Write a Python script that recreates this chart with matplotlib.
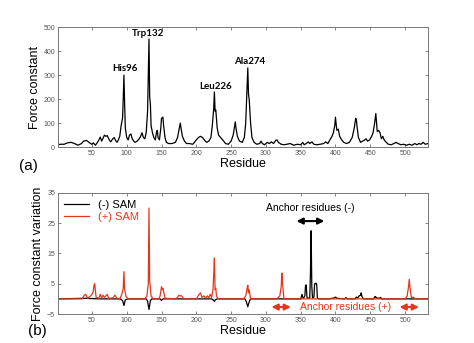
import numpy as np
import matplotlib.pyplot as plt

plt.rcParams['font.family'] = ['Liberation Sans', 'DejaVu Sans']

# (a) force constant per residue
res_a = [1, 5, 10, 15, 20, 25, 30, 35, 38, 42, 45, 48, 50, 52, 55, 58, 60, 62, 64, 66,
         68, 70, 72, 75, 77, 80, 82, 84, 86, 88, 90, 92, 94, 95, 96, 97, 98, 100, 102, 104,
         106, 108, 110, 112, 115, 118, 120, 122, 124, 126, 128, 130, 131, 132, 133, 134, 135, 137, 139, 141,
         143, 144, 145, 147, 149, 150, 152, 153, 155, 157, 160, 165, 170, 173, 175, 177, 178, 180, 183, 186,
         190, 195, 200, 203, 206, 209, 212, 215, 218, 221, 223, 225, 226, 227, 228, 230, 232, 235, 238, 242,
         246, 250, 253, 255, 256, 257, 259, 262, 266, 269, 271, 272, 273, 274, 275, 276, 278, 280, 283, 287,
         291, 293, 295, 298, 302, 305, 308, 311, 314, 316, 318, 322, 326, 330, 335, 340, 345, 350, 353, 355,
         358, 361, 363, 366, 369, 373, 378, 383, 386, 389, 392, 395, 397, 399, 400, 401, 402, 404, 406, 409,
         412, 416, 420, 424, 427, 429, 430, 431, 433, 436, 439, 442, 444, 446, 449, 452, 454, 456, 458, 459,
         460, 462, 464, 466, 468, 470, 473, 476, 480, 484, 487, 490, 494, 498, 502, 506, 510, 514, 517, 520,
         523, 526, 529, 533]
force_a = [10, 12, 12, 18, 20, 15, 8, 15, 25, 28, 22, 15, 12, 18, 8, 20, 30, 42, 25, 38,
           50, 45, 48, 30, 22, 35, 40, 28, 20, 30, 45, 90, 120, 200, 300, 180, 80, 40, 30, 50,
           55, 35, 25, 20, 25, 35, 45, 60, 40, 35, 60, 150, 300, 450, 210, 180, 90, 60, 40, 30,
           65, 70, 40, 30, 80, 120, 125, 90, 40, 20, 15, 15, 20, 40, 70, 100, 80, 45, 25, 15,
           15, 12, 30, 40, 45, 40, 28, 20, 25, 40, 90, 160, 230, 150, 155, 80, 50, 40, 30, 15,
           12, 25, 50, 85, 105, 80, 45, 25, 20, 40, 100, 180, 250, 330, 220, 200, 100, 40, 20, 12,
           15, 25, 15, 10, 20, 15, 22, 15, 28, 30, 20, 12, 10, 12, 15, 8, 12, 10, 20, 10,
           15, 22, 15, 22, 12, 10, 12, 15, 22, 15, 30, 45, 60, 90, 125, 95, 70, 75, 45, 30,
           20, 15, 20, 40, 80, 120, 115, 85, 40, 20, 25, 30, 35, 25, 30, 45, 60, 95, 140, 100,
           65, 70, 60, 35, 45, 30, 20, 12, 10, 15, 20, 15, 10, 12, 8, 12, 8, 15, 10, 15,
           12, 20, 12, 15]

# (b) force constant variation
res_minus = [1, 40, 60, 90, 94, 96, 98, 102, 128, 130, 132, 134, 136, 148, 150, 152, 222, 224, 226, 228,
             230, 270, 272, 274, 276, 278, 340, 350, 352, 353, 354, 356, 357, 358, 359, 360, 363, 364, 365, 366,
             367, 369, 370, 371, 372, 373, 374, 376, 390, 398, 400, 402, 413, 415, 417, 428, 430, 432, 434, 436,
             437, 438, 440, 455, 457, 458, 460, 464, 465, 466, 480, 533]
var_minus = [0, 0.2, 0, 0, -0.5, -2.2, -0.3, 0, 0, -0.8, -3.5, -0.6, 0, 0, -0.5, 0, 0, -0.3, -0.8, -0.2,
             0, 0, -1.0, -2.6, -1.0, 0, 0, 0, 1.5, 0.5, 0.2, 1.0, 4.5, 4.6, 0.5, 0.2, 0.3, 8.0, 22.5, 4.0,
             0.3, 0.5, 5.0, 5.0, 5.2, 4.8, 0.3, 0, 0, 0.3, 0.6, 0.2, 0, 0.4, 0, 0, 0.6, 0.3, 1.0, 1.2,
             2.0, 0.8, 0, 0, 0.8, 0.6, 0.2, 0.3, 0.5, 0, 0, 0]

res_plus = [1, 36, 39, 41, 44, 48, 50, 52, 53, 54, 56, 60, 62, 64, 66, 68, 70, 72, 74, 80,
            83, 86, 90, 93, 95, 96, 97, 99, 102, 126, 129, 131, 132, 133, 135, 138, 146, 148, 150, 151,
            152, 153, 155, 170, 173, 175, 177, 179, 182, 200, 204, 206, 208, 211, 213, 216, 218, 220, 222, 224,
            225, 226, 227, 228, 229, 231, 268, 271, 273, 274, 275, 276, 278, 316, 320, 322, 323, 324, 326, 500,
            503, 505, 506, 507, 509, 511, 512, 514, 533]
var_plus = [0, 0, 1.2, 1.5, 0.2, 1.0, 1.5, 2.5, 4.5, 5.0, 0.5, 0.2, 1.5, 0.3, 1.2, 0.5, 1.0, 1.5, 0.2, 0.3,
            1.2, 0.2, 0, 1.5, 3.5, 9.0, 3.0, 0.8, 0, 0, 1.0, 5.0, 30.0, 6.0, 1.0, 0, 0, 1.0, 4.0, 3.0,
            3.5, 2.5, 0.2, 0, 0.5, 1.2, 1.0, 1.0, 0, 0, 1.5, 2.0, 0.5, 1.0, 0.3, 1.0, 0.3, 1.5, 0.5, 3.0,
            8.0, 13.5, 3.0, 3.5, 1.0, 0, 0, 1.0, 3.5, 4.5, 2.0, 3.0, 0, 0, 1.0, 4.0, 8.5, 5.0, 0, 0,
            1.0, 4.0, 6.5, 4.0, 0.5, 0.5, 0.6, 0, 0]

peak_names = ['His96', 'Trp132', 'Leu226', 'Ala274']
peak_res = [98, 130, 228, 276]
peak_val = [329, 475, 254, 358]

red = '#e4361c'
grey = '#555555'

fig = plt.figure(figsize=(4.74, 3.43), dpi=100)
ax1 = fig.add_axes([0.122, 0.571, 0.781, 0.350])
ax2 = fig.add_axes([0.122, 0.0845, 0.781, 0.353])

ax1.plot(res_a, force_a, color='black', lw=0.9)
for name, r, v in zip(peak_names, peak_res, peak_val):
    ax1.text(r, v, name, ha='center', va='center', fontsize=7, fontweight='bold',
             family=['Lato', 'DejaVu Sans'])
ax1.set_ylim(0, 500)
ax1.set_yticks([0, 100, 200, 300, 400, 500])
ax1.set_ylabel('Force constant', fontsize=9, labelpad=2)
ax1.set_xlabel('Residue', fontsize=9, labelpad=1)

ax2.plot(res_minus, var_minus, color='black', lw=0.9, label='(-) SAM')
ax2.plot(res_plus, var_plus, color=red, lw=0.9, label='(+) SAM')
ax2.set_ylim(-5, 35)
ax2.set_yticks([-5, 5, 15, 25, 35])
ax2.set_ylabel('Force constant variation', fontsize=9, labelpad=2)
ax2.set_xlabel('Residue', fontsize=9, labelpad=1)
leg = ax2.legend(loc='upper left', frameon=False, fontsize=8, handlelength=2.2,
                 borderaxespad=0.2, labelspacing=0.2)
leg.get_texts()[1].set_color(red)

ax2.annotate('', xy=(340, 25.7), xytext=(388, 25.7),
             arrowprops=dict(arrowstyle='<|-|>', color='black', lw=1.5, mutation_scale=9))
ax2.text(364, 30, 'Anchor residues (-)', ha='center', va='center', fontsize=7.5)
for x0, x1 in [(304, 340), (488, 524)]:
    ax2.annotate('', xy=(x0, -2.7), xytext=(x1, -2.7),
                 arrowprops=dict(arrowstyle='<|-|>', color=red, lw=1.5, mutation_scale=9))
ax2.text(414, -2.7, 'Anchor residues (+)', ha='center', va='center', fontsize=7.5, color=red)

for ax in (ax1, ax2):
    ax.set_xlim(1, 533)
    ax.set_xticks(np.arange(50, 501, 50))
    ax.tick_params(direction='in', length=2, width=0.5, labelsize=5, colors=grey,
                   top=True, right=True, pad=2)
    for s in ax.spines.values():
        s.set_color('#777777')
        s.set_linewidth(0.7)

fig.text(0.06, 0.515, '(a)', fontsize=11, va='center', ha='center')
fig.text(0.078, 0.035, '(b)', fontsize=11, va='center', ha='center')

fig.savefig('out.png', dpi=100)
